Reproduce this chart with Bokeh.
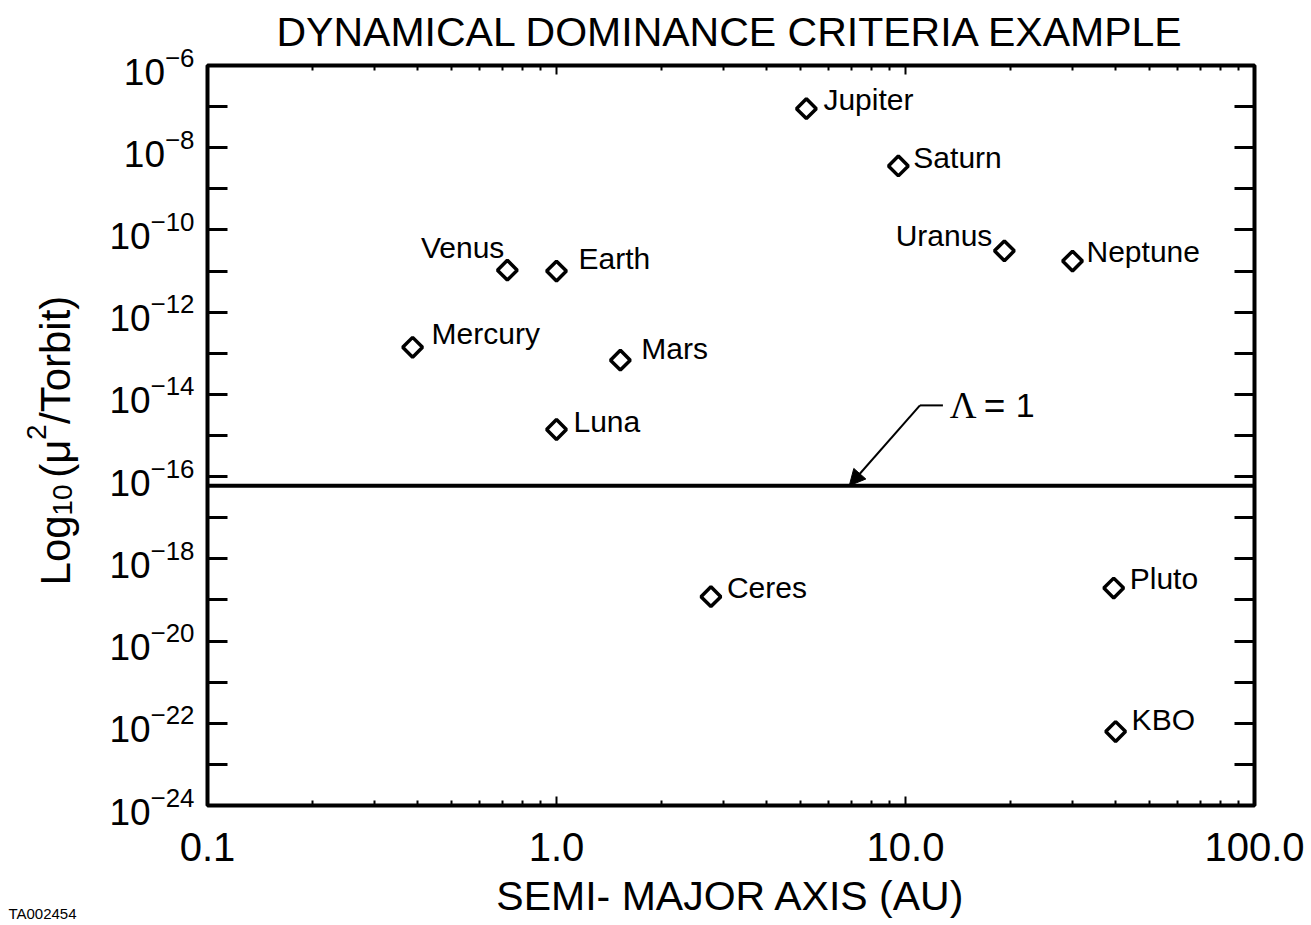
import math
from bokeh.plotting import figure
from bokeh.layouts import row
from bokeh.core.properties import value
from bokeh.models import (FixedTicker, LogAxis, Span, Arrow, NormalHead, Label,
                          PrintfTickFormatter, CustomJSTickFormatter)
from bokeh.embed import file_html
from bokeh.resources import INLINE

# ---------------- data ----------------
names = ["Mercury", "Venus", "Earth", "Luna", "Mars", "Ceres",
         "Jupiter", "Saturn", "Uranus", "Neptune", "Pluto", "KBO"]
semi_major_au = [0.387, 0.723, 1.0, 1.0, 1.524, 2.77,
                 5.2, 9.54, 19.2, 30.1, 39.5, 40.0]
mu2_over_torbit = [1.4e-13, 1.05e-11, 1.0e-11, 1.4e-15, 6.8e-14, 1.2e-19,
                   8.9e-8, 3.6e-9, 3.1e-11, 1.75e-11, 1.95e-19, 6.3e-23]
lambda_one_level = 6e-17

x_major_ticks = [0.1, 1.0, 10.0, 100.0]
x_minor_ticks = [0.2, 0.3, 0.4, 0.5, 0.6, 0.7, 0.8, 0.9,
                 2, 3, 4, 5, 6, 7, 8, 9,
                 20, 30, 40, 50, 60, 70, 80, 90]
y_major_ticks = [1e-6, 1e-8, 1e-10, 1e-12, 1e-14, 1e-16, 1e-18, 1e-20, 1e-22, 1e-24]
y_minor_ticks = [1e-7, 1e-9, 1e-11, 1e-13, 1e-15, 1e-17, 1e-19, 1e-21, 1e-23]

title_text = "DYNAMICAL DOMINANCE CRITERIA EXAMPLE"
x_label_text = "SEMI- MAJOR AXIS (AU)"
corner_text = "TA002454"
y_label_parts = ["Log", "10", "(\u03bc", "2", "/Torbit)"]

# annotation arrow (data coords)
arrow_knee = (11.0, 5.4e-15)
arrow_bar_end = 12.8
arrow_tip_x = 6.9
lambda_text_x = 13.4

# ---------------- style ----------------
FONT = "Liberation Sans"
label_style = {  # (align, dx px, dy px up)
    "Mercury": ("left", 19, 14), "Venus": ("right", -3, 23), "Earth": ("left", 22, 13),
    "Luna": ("left", 17, 8), "Mars": ("left", 21, 12), "Ceres": ("left", 16, 9),
    "Jupiter": ("left", 17, 9), "Saturn": ("left", 15, 8), "Uranus": ("right", -12, 15),
    "Neptune": ("left", 14, 10), "Pluto": ("left", 16, 10), "KBO": ("left", 16, 12),
}

TOTAL_H = 924
LEFT_W = 84
FW, FH = 1047, 740
TOP_B = 65
BOT_B = TOTAL_H - TOP_B - FH
blank = CustomJSTickFormatter(code="return ' ';")

# ---------- left strip: rotated y-axis title and corner id ----------
pl = figure(width=LEFT_W, height=TOTAL_H, x_range=(0, LEFT_W), y_range=(0, FH),
            output_backend="svg", toolbar_location=None,
            x_axis_location="below", y_axis_location=None,
            min_border_left=0, min_border_right=0,
            min_border_top=TOP_B, min_border_bottom=BOT_B,
            background_fill_color="white", border_fill_color="white")
pl.grid.visible = False
pl.outline_line_color = None
lx = pl.xaxis[0]
lx.axis_line_color = None
lx.major_tick_line_color = None
lx.minor_tick_line_color = None
lx.major_tick_in = 0
lx.major_tick_out = 0
lx.minor_tick_in = 0
lx.minor_tick_out = 0
lx.formatter = blank
lx.major_label_text_font_size = "2px"
lx.major_label_standoff = 0
lx.axis_label = corner_text
lx.axis_label_text_font = FONT
lx.axis_label_text_font_size = "15px"
lx.axis_label_text_font_style = "normal"
lx.axis_label_text_color = "black"
lx.axis_label_standoff = 97

# (offset along text, baseline x, font size) for each y-label part
part_layout = [(0, 55, "42px"), (70, 62, "28px"), (108, 55, "42px"),
               (146, 36, "28px"), (162, 55, "42px")]
y_start = 805 - 587
for txt, (off, bx, fs) in zip(y_label_parts, part_layout):
    pl.text(x=[bx], y=[y_start + off], text=[txt], angle=math.pi / 2,
            text_font=value(FONT), text_font_size=value(fs), text_color="black",
            text_align="left", text_baseline="alphabetic")

# ---------- main plot ----------
p = figure(frame_width=FW, frame_height=FH,
           x_axis_type="log", y_axis_type="log",
           x_range=(0.1, 100), y_range=(1e-24, 1e-6),
           output_backend="svg", toolbar_location=None,
           min_border_left=207 - LEFT_W, min_border_right=56,
           min_border_top=TOP_B, min_border_bottom=BOT_B,
           background_fill_color="white", border_fill_color="white")
p.grid.visible = False
p.outline_line_color = "black"
p.outline_line_width = 4

p.title.text = title_text
p.title.text_font = FONT
p.title.text_font_size = "41px"
p.title.text_font_style = "normal"
p.title.text_color = "black"
p.title.align = "center"
p.title.standoff = 12

xt = FixedTicker(ticks=x_major_ticks, minor_ticks=x_minor_ticks)
yt = FixedTicker(ticks=y_major_ticks, minor_ticks=y_minor_ticks)

def style_common(ax, major_in, minor_in, lw, labels, fs, standoff):
    ax.axis_line_color = None
    ax.major_tick_in = major_in
    ax.major_tick_out = 0
    ax.minor_tick_in = minor_in
    ax.minor_tick_out = 0
    ax.major_tick_line_width = lw
    ax.minor_tick_line_width = lw
    ax.major_tick_line_color = "black"
    ax.minor_tick_line_color = "black"
    ax.major_label_text_font = FONT
    ax.major_label_text_color = "black"
    if labels:
        ax.major_label_text_font_size = fs
        ax.major_label_standoff = standoff
    else:
        ax.formatter = blank
        ax.major_label_text_font_size = "2px"
        ax.major_label_standoff = 0

xa = p.xaxis[0]
xa.ticker = xt
xa.formatter = PrintfTickFormatter(format="%.1f")
style_common(xa, 9, 5, 2, True, "40px", 27)
xa.axis_label = x_label_text
xa.axis_label_text_font = FONT
xa.axis_label_text_font_size = "41px"
xa.axis_label_text_font_style = "normal"
xa.axis_label_text_color = "black"
xa.axis_label_standoff = 9

ya = p.yaxis[0]
ya.ticker = yt
style_common(ya, 20, 20, 3, True, "37px", 13)

top_ax = LogAxis(ticker=xt)
style_common(top_ax, 9, 5, 2, False, None, 0)
p.add_layout(top_ax, "above")
right_ax = LogAxis(ticker=yt)
style_common(right_ax, 20, 20, 3, False, None, 0)
p.add_layout(right_ax, "right")

# Lambda = 1 line
p.add_layout(Span(location=lambda_one_level, dimension="width",
                  line_color="black", line_width=4))

# arrow
p.segment(x0=[arrow_knee[0]], y0=[arrow_knee[1]], x1=[arrow_bar_end], y1=[arrow_knee[1]],
          line_color="black", line_width=2)
p.add_layout(Arrow(x_start=arrow_knee[0], y_start=arrow_knee[1],
                   x_end=arrow_tip_x, y_end=lambda_one_level,
                   line_color="black", line_width=2,
                   end=NormalHead(size=16, fill_color="black", line_color="black")))
for txt, dx, fnt, fs in [("\u039b", 0, "Liberation Serif", "37px"),
                         ("=", 34, FONT, "37px"), ("1", 66, FONT, "34px")]:
    p.add_layout(Label(x=lambda_text_x, y=arrow_knee[1], x_offset=dx, text=txt,
                       text_font=fnt, text_font_size=fs,
                       text_baseline="middle", text_align="left", text_color="black"))

# points
p.scatter(semi_major_au, mu2_over_torbit, marker="square", size=14, angle=math.pi / 4,
          fill_color="white", line_color="black", line_width=3.5)

for n, xv, yv in zip(names, semi_major_au, mu2_over_torbit):
    align, dx, dy = label_style[n]
    p.add_layout(Label(x=xv, y=yv, text=n, x_offset=dx, y_offset=dy,
                       text_font=FONT, text_font_size="30px", text_align=align,
                       text_baseline="middle", text_color="black"))

layout = row(pl, p)
open("out.html", "w").write(file_html(layout, INLINE))
